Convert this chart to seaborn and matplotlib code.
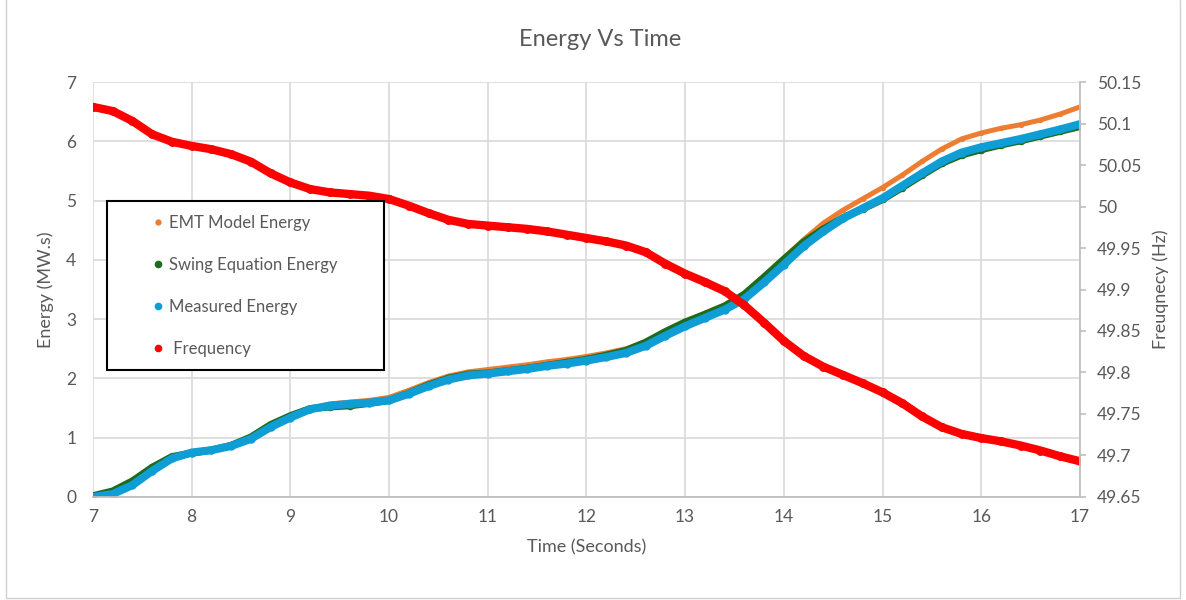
import pandas as pd
import seaborn as sns
import matplotlib.pyplot as plt
from matplotlib.lines import Line2D
from matplotlib.patches import Rectangle
from matplotlib.ticker import FuncFormatter

time_s = [7.0, 7.2, 7.4, 7.6, 7.8, 8.0, 8.2, 8.4, 8.6, 8.8,
          9.0, 9.2, 9.4, 9.6, 9.8, 10.0, 10.2, 10.4, 10.6, 10.8,
          11.0, 11.2, 11.4, 11.6, 11.8, 12.0, 12.2, 12.4, 12.6, 12.8,
          13.0, 13.2, 13.4, 13.6, 13.8, 14.0, 14.2, 14.4, 14.6, 14.8,
          15.0, 15.2, 15.4, 15.6, 15.8, 16.0, 16.2, 16.4, 16.6, 16.8, 17.0]

emt_energy = [0.00, 0.06, 0.22, 0.46, 0.66, 0.75, 0.80, 0.87, 0.99, 1.19,
              1.35, 1.49, 1.57, 1.60, 1.63, 1.68, 1.80, 1.93, 2.04, 2.11,
              2.15, 2.19, 2.23, 2.28, 2.32, 2.37, 2.43, 2.50, 2.62, 2.79,
              2.96, 3.10, 3.24, 3.43, 3.72, 4.03, 4.34, 4.62, 4.84, 5.03,
              5.22, 5.43, 5.66, 5.87, 6.04, 6.14, 6.22, 6.28, 6.36, 6.46, 6.58]

swing_energy = [0.02, 0.10, 0.27, 0.50, 0.68, 0.74, 0.79, 0.87, 1.01, 1.22,
                1.37, 1.49, 1.52, 1.54, 1.58, 1.63, 1.75, 1.89, 2.00, 2.07,
                2.09, 2.13, 2.17, 2.22, 2.27, 2.32, 2.39, 2.47, 2.61, 2.79,
                2.95, 3.08, 3.22, 3.42, 3.71, 4.01, 4.30, 4.52, 4.71, 4.86,
                5.02, 5.22, 5.43, 5.63, 5.77, 5.86, 5.94, 6.01, 6.09, 6.17, 6.25]

measured_energy = [0.00, 0.05, 0.20, 0.44, 0.65, 0.75, 0.79, 0.86, 0.98, 1.18,
                   1.34, 1.48, 1.54, 1.57, 1.59, 1.63, 1.74, 1.87, 1.98, 2.05,
                   2.08, 2.12, 2.16, 2.21, 2.25, 2.30, 2.36, 2.43, 2.55, 2.72,
                   2.88, 3.02, 3.16, 3.34, 3.62, 3.92, 4.23, 4.48, 4.70, 4.87,
                   5.04, 5.25, 5.46, 5.66, 5.81, 5.90, 5.97, 6.04, 6.12, 6.20, 6.29]

frequency_hz = [50.120, 50.115, 50.103, 50.087, 50.078, 50.073, 50.069, 50.063, 50.054, 50.040,
                50.029, 50.021, 50.017, 50.015, 50.013, 50.009, 50.001, 49.992, 49.984, 49.979,
                49.977, 49.975, 49.973, 49.970, 49.966, 49.962, 49.958, 49.953, 49.945, 49.931,
                49.919, 49.909, 49.898, 49.881, 49.860, 49.838, 49.820, 49.807, 49.797, 49.787,
                49.776, 49.763, 49.747, 49.734, 49.726, 49.721, 49.717, 49.712, 49.706, 49.699, 49.693]

series_names = ['EMT Model Energy', 'Swing Equation Energy', 'Measured Energy', ' Frequency']

TEXT = '#595959'
GRID = '#D9D9D9'
AXIS = '#BFBFBF'
ORANGE = '#ED7D31'
GREEN = '#1E6B1E'
BLUE = '#0E9ED5'
RED = '#FF0000'

sns.set_style('white')
plt.rcParams['font.family'] = ['Lato', 'DejaVu Sans']

df = pd.DataFrame({'time': time_s, 'emt': emt_energy, 'swing': swing_energy,
                   'measured': measured_energy, 'freq': frequency_hz})

fig, ax = plt.subplots(figsize=(11.86, 6), dpi=100)
fig.subplots_adjust(left=0.0784, right=0.9106, top=0.8633, bottom=0.1717)
ax2 = ax.twinx()

sns.lineplot(data=df, x='time', y='emt', ax=ax, color=ORANGE, linewidth=3.6,
             marker='o', markersize=3.8, markeredgewidth=0)
sns.lineplot(data=df, x='time', y='swing', ax=ax, color=GREEN, linewidth=5.2,
             marker='o', markersize=5.4, markeredgewidth=0)
sns.lineplot(data=df, x='time', y='measured', ax=ax, color=BLUE, linewidth=5.8,
             marker='o', markersize=6.0, markeredgewidth=0)
sns.lineplot(data=df, x='time', y='freq', ax=ax2, color=RED, linewidth=6.0,
             marker='o', markersize=6.4, markeredgewidth=0)

ax.set_xlim(7, 17)
ax.set_ylim(0, 7)
ax2.set_ylim(49.65, 50.15)
ax.set_xticks(range(7, 18))
ax.set_yticks(range(0, 8))
ax2.set_yticks([49.65 + 0.05 * i for i in range(11)])
ax2.yaxis.set_major_formatter(FuncFormatter(lambda v, p: '%g' % round(v, 2)))

ax.grid(True, color=GRID, linewidth=1.2)
ax.set_axisbelow(True)
ax2.grid(False)

for s in ['top', 'left', 'right']:
    ax.spines[s].set_visible(False)
ax.spines['bottom'].set_color(AXIS)
ax.spines['bottom'].set_linewidth(1.3)
for s in ['top', 'left', 'bottom']:
    ax2.spines[s].set_visible(False)
ax2.spines['right'].set_color(AXIS)
ax2.spines['right'].set_linewidth(1.3)

ax.tick_params(axis='x', length=0, labelsize=12.5, colors=TEXT, pad=9)
ax.tick_params(axis='y', length=0, labelsize=12.5, colors=TEXT, pad=12)
ax2.tick_params(axis='y', length=4, width=1.2, color=AXIS, labelsize=12.5,
                labelcolor=TEXT, pad=8)

ax.set_xlabel('Time (Seconds)', fontsize=13, color=TEXT, labelpad=10)
ax.set_ylabel('Energy (MW.s)', fontsize=13, color=TEXT, labelpad=9)
ax2.set_ylabel('Freuqnecy (Hz)', fontsize=13, color=TEXT, labelpad=8, rotation=90)

fig.text(600 / 1186, 1 - 39 / 600, 'Energy Vs Time', ha='center', va='center',
         fontsize=17, color=TEXT)

# legend box drawn by hand so its size matches the reference
fig.patches.append(Rectangle((107 / 1186, 1 - 370 / 600), 277 / 1186, 169 / 600,
                             transform=fig.transFigure, facecolor='white',
                             edgecolor='black', linewidth=1.5, zorder=4))
handles = [Line2D([], [], ls='none', marker='o', color=ORANGE, markersize=3.5),
           Line2D([], [], ls='none', marker='o', color=GREEN, markersize=4.5),
           Line2D([], [], ls='none', marker='o', color=BLUE, markersize=4.5),
           Line2D([], [], ls='none', marker='o', color=RED, markersize=4.5)]
fig.legend(handles, series_names, loc='upper left',
           bbox_to_anchor=(153 / 1186, 1 - 215 / 600), bbox_transform=fig.transFigure,
           frameon=False, fontsize=12, labelcolor=TEXT, labelspacing=1.55,
           handlelength=0.6, handletextpad=0.35, borderpad=0, borderaxespad=0)

# outer chart-area frame
for xs, ys in [([6 / 1186, 6 / 1186], [2 / 600, 1]),
               ([6 / 1186, 1180 / 1186], [2 / 600, 2 / 600]),
               ([1180 / 1186, 1180 / 1186], [2 / 600, 1])]:
    fig.add_artist(Line2D(xs, ys, transform=fig.transFigure, color='#D0D0D0', linewidth=1))

fig.savefig('out.png', dpi=100)
